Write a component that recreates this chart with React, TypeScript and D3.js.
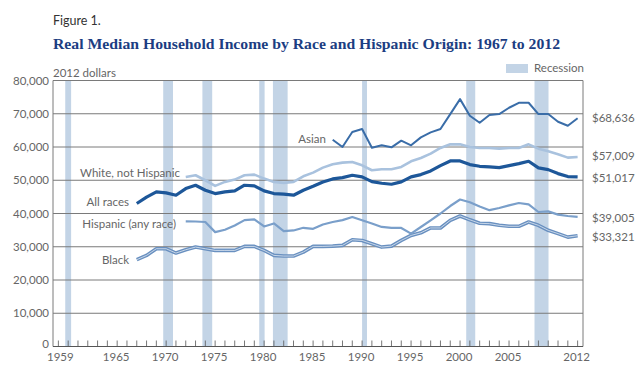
import React from "react";
import * as d3 from "d3";

// income in 2012 dollars
const allRacesYears = d3.range(1967, 2013);
const allRaces = [
  43000, 44900, 46500, 46200, 45500, 47500, 48500, 47000, 46000, 46500,
  46800, 48500, 48300, 46800, 46000, 45800, 45500, 47000, 48200, 49500,
  50400, 50800, 51500, 51000, 49600, 49100, 48800, 49500, 51000, 51700,
  52800, 54400, 55800, 55800, 54700, 54200, 54000, 53800, 54400, 55000,
  55700, 53700, 53200, 52000, 51100, 51017,
];

const whiteYears = d3.range(1972, 2013);
const white = [
  51000, 51500, 50000, 48300, 49500, 50200, 51500, 51700, 50500, 49500,
  49200, 49500, 51200, 52300, 53800, 54800, 55300, 55500, 54500, 53000,
  53300, 53300, 54000, 55700, 56700, 58000, 59700, 60800, 60800, 60000,
  59700, 59700, 59500, 59700, 59700, 60800, 59500, 58700, 57800, 56800,
  57009,
];

const asianYears = d3.range(1987, 2013);
const asian = [
  62200, 60000, 64500, 65400, 59800, 60500, 59900, 61900, 60500, 62900,
  64400, 65400, 69900, 74400, 69400, 67300, 69600, 69900, 71800, 73300,
  73300, 69900, 69900, 67600, 66400, 68636,
];

const hispanicYears = d3.range(1972, 2013);
const hispanic = [
  37650, 37600, 37450, 34400, 35100, 36400, 38000, 38250, 36100, 37000,
  34700, 34900, 35700, 35400, 36700, 37450, 38000, 38950, 37950, 37000,
  35950, 35650, 35650, 33950, 35950, 37950, 40000, 42250, 44200, 43400,
  42100, 41000, 41650, 42450, 43150, 42750, 40450, 40650, 39650, 39250,
  39005,
];

const blackYears = d3.range(1967, 2013);
const black = [
  26100, 27400, 29400, 29400, 28100, 29100, 29900, 29400, 28900, 28900,
  28900, 30100, 30100, 28900, 27400, 27200, 27200, 28400, 30100, 30100,
  30200, 30400, 32100, 31900, 30900, 29900, 30200, 31900, 33400, 34200,
  35650, 35650, 37950, 39250, 38100, 37050, 36950, 36450, 36150, 36150,
  37450, 36450, 34950, 33950, 32900, 33321,
];

// recession shading, as drawn (fractional years)
const recessions: [number, number][] = [
  [1959.7, 1960.3],
  [1969.7, 1970.7],
  [1973.7, 1974.7],
  [1979.5, 1980.05],
  [1980.9, 1982.4],
  [1990.0, 1990.5],
  [2000.63, 2001.55],
  [2007.6, 2009.03],
];

const yTicks = [0, 10000, 20000, 30000, 40000, 50000, 60000, 70000, 80000];
const xLabels = [1959, 1965, 1970, 1975, 1980, 1985, 1990, 1995, 2000, 2005, 2012];
const endLabels = ["$68,636", "$57,009", "$51,017", "$39,005", "$33,321"];

const sans = "Lato, 'Open Sans', 'DejaVu Sans', sans-serif";

export default function App() {
  const width = 640;
  const height = 369;

  const x = d3.scaleLinear().domain([1958.45, 2012.55]).range([53, 583]);
  const y = d3.scaleLinear().domain([0, 80000]).range([346.5, 80.5]);

  const makeLine = (years: number[], vals: number[]) =>
    d3
      .line<number>()
      .x((_, i) => x(years[i]))
      .y((d) => y(d))(vals) ?? "";

  const series = [
    { key: "white", d: makeLine(whiteYears, white), color: "#a9c2de", w: 2.6 },
    { key: "asian", d: makeLine(asianYears, asian), color: "#3a6da8", w: 2 },
    { key: "hisp", d: makeLine(hispanicYears, hispanic), color: "#7a9fca", w: 2.2 },
    { key: "all", d: makeLine(allRacesYears, allRaces), color: "#1d5799", w: 3.2 },
  ];
  const blackPath = makeLine(blackYears, black);

  // label rows on the right, tops of the pile
  const endY = [118, 156, 177.5, 217.5, 237];

  return (
    <svg
      width={width}
      height={height}
      style={{ position: "absolute", left: 0, top: 0, background: "#fff" }}
    >
      <text x={53} y={25} fontFamily={sans} fontSize={12.5} fill="#333">
        Figure 1.
      </text>
      <text
        x={53}
        y={49}
        fontFamily="'Liberation Serif', 'DejaVu Serif', serif"
        fontWeight="bold"
        fontSize={15}
        fill="#1b3d82"
        textLength={507}
        lengthAdjust="spacingAndGlyphs"
      >
        Real Median Household Income by Race and Hispanic Origin: 1967 to 2012
      </text>
      <text x={53} y={77} fontFamily={sans} fontSize={11.5} fill="#666">
        2012 dollars
      </text>

      {/* legend */}
      <rect x={506} y={64} width={22} height={9} fill="#c3d4e6" />
      <text x={534} y={72} fontFamily={sans} fontSize={11.5} fill="#666">
        Recession
      </text>

      {/* recession bands */}
      {recessions.map(([a, b], i) => (
        <rect
          key={i}
          x={x(a)}
          y={y(80000)}
          width={x(b) - x(a)}
          height={y(0) - y(80000)}
          fill="#c3d4e6"
        />
      ))}

      {/* grid */}
      {yTicks.map((t) => (
        <g key={t}>
          <line x1={53} x2={583} y1={y(t)} y2={y(t)} stroke="#7a7a7a" strokeWidth={1} />
          <text
            x={49}
            y={y(t) + (t === 0 ? 1.5 : 4)}
            textAnchor="end"
            fontFamily={sans}
            fontSize={11.5}
            fill="#666"
          >
            {d3.format(",")(t)}
          </text>
        </g>
      ))}
      <line x1={53} x2={53} y1={y(80000)} y2={y(0)} stroke="#7a7a7a" />
      <line x1={583} x2={583} y1={y(80000)} y2={y(0)} stroke="#7a7a7a" />

      {/* year ticks */}
      {d3.range(1959, 2013).map((yr) => (
        <line
          key={yr}
          x1={x(yr)}
          x2={x(yr)}
          y1={y(0)}
          y2={y(0) - 6}
          stroke="#555"
          strokeWidth={0.8}
        />
      ))}
      <line x1={53} x2={583} y1={y(0)} y2={y(0)} stroke="#555" strokeWidth={1} />
      {xLabels.map((yr) => (
        <text
          key={yr}
          x={yr === 1959 ? x(yr) + 2 : x(yr) - 1}
          y={361}
          textAnchor="middle"
          fontFamily={sans}
          fontSize={11.5}
          fill="#666"
        >
          {yr}
        </text>
      ))}

      {/* series */}
      <path d={blackPath} fill="none" stroke="#6990c0" strokeWidth={3.6} strokeLinejoin="round" />
      <path d={blackPath} fill="none" stroke="#dfe8f3" strokeWidth={0.8} strokeLinejoin="round" />
      {series.map((s) => (
        <path
          key={s.key}
          d={s.d}
          fill="none"
          stroke={s.color}
          strokeWidth={s.w}
          strokeLinejoin="round"
        />
      ))}

      {/* series labels */}
      <g fontFamily={sans} fontSize={11.5} fill="#666">
        <text x={326} y={143} textAnchor="end">Asian</text>
        <text x={180} y={177} textAnchor="end">White, not Hispanic</text>
        <text x={129} y={206} textAnchor="end">All races</text>
        <text x={176} y={228} textAnchor="end">Hispanic (any race)</text>
        <text x={129} y={264} textAnchor="end">Black</text>
      </g>

      {/* end values */}
      <g fontFamily={sans} fontSize={11.5} fill="#666">
        {endLabels.map((l, i) => (
          <text key={l} x={592} y={endY[i] + 4}>
            {l}
          </text>
        ))}
      </g>
    </svg>
  );
}
